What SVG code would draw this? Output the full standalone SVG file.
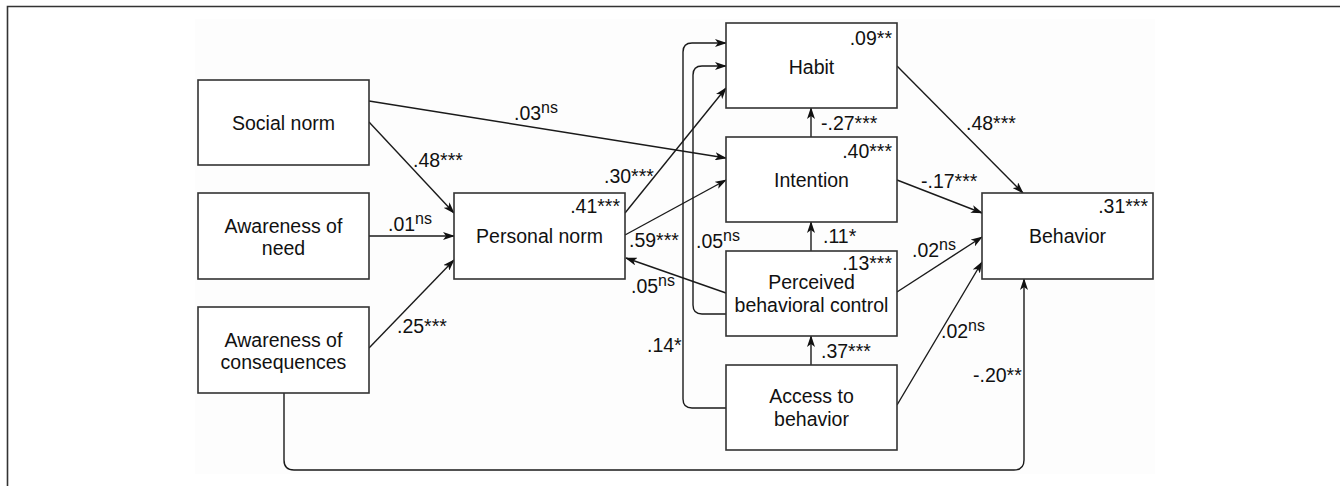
<svg xmlns="http://www.w3.org/2000/svg" width="1340" height="486" viewBox="0 0 1340 486">
  <defs>
    <marker id="arrow" viewBox="0 0 12 8" refX="11" refY="4" markerWidth="12" markerHeight="8" markerUnits="userSpaceOnUse" orient="auto">
      <path d="M0,0 L12,4 L0,8 L3,4 z" fill="#111"/>
    </marker>
    <style>
      .frame { fill: none; stroke: #333; stroke-width: 1.6; }
      .panel { fill: #fdfdfd; stroke: none; }
      .box { fill: #fff; stroke: #333; stroke-width: 1.6; }
      .edge { fill: none; stroke: #1a1a1a; stroke-width: 1.4; marker-end: url(#arrow); }
      text { font-family: "Liberation Sans", Arial, Helvetica, sans-serif; font-size: 19.5px; fill: #111; }
      .c { text-anchor: middle; }
      .r { text-anchor: end; }
      .sup { font-size: 16px; }
    </style>
  </defs>

  <!-- page frame and drawing panel -->
  <path class="frame" d="M7.5,486 V6.5 H1340"/>
  <rect class="panel" x="195" y="19" width="960" height="455"/>

  <!-- connectors -->
  <g id="connectors">
    <path class="edge" d="M369,101 L726,158"/>
    <path class="edge" d="M369,122 L454,213"/>
    <path class="edge" d="M369,236 L454,236"/>
    <path class="edge" d="M369,348 L454,260"/>
    <path class="edge" d="M284,393 V460 Q284,470 294,470 H1014 Q1024,470 1024,460 V279"/>
    <path class="edge" d="M625,213 L726,88"/>
    <path class="edge" d="M625,235 L726,180"/>
    <path class="edge" d="M726,293 L626,258"/>
    <path class="edge" d="M726,314 H702 Q693,314 693,305 V75 Q693,66 702,66 H726"/>
    <path class="edge" d="M726,408 H692 Q683,408 683,399 V52 Q683,43 692,43 H726"/>
    <path class="edge" d="M811,137 V108"/>
    <path class="edge" d="M811,251 V222"/>
    <path class="edge" d="M811,365 V336"/>
    <path class="edge" d="M897,66 L1023,193"/>
    <path class="edge" d="M897,180 L982,213"/>
    <path class="edge" d="M897,292 L982,237"/>
    <path class="edge" d="M897,405 L982,262"/>

    <!-- path coefficients -->
    <text x="514" y="120">.03<tspan class="sup" dy="-7">ns</tspan></text>
    <text x="413" y="167">.48***</text>
    <text x="388" y="231">.01<tspan class="sup" dy="-7">ns</tspan></text>
    <text x="397" y="333">.25***</text>
    <text x="604" y="183">.30***</text>
    <text x="629" y="247">.59***</text>
    <text x="696" y="248">.05<tspan class="sup" dy="-7">ns</tspan></text>
    <text x="631" y="293">.05<tspan class="sup" dy="-7">ns</tspan></text>
    <text x="647" y="352">.14*</text>
    <text x="821" y="130">-.27***</text>
    <text x="823" y="243">.11*</text>
    <text x="821" y="358">.37***</text>
    <text x="966" y="130">.48***</text>
    <text x="921" y="188">-.17***</text>
    <text x="912" y="257">.02<tspan class="sup" dy="-7">ns</tspan></text>
    <text x="941" y="338">.02<tspan class="sup" dy="-7">ns</tspan></text>
    <text x="973" y="382">-.20**</text>
  </g>

  <!-- nodes -->
  <g id="social-norm">
    <rect class="box" x="198" y="80" width="171" height="85"/>
    <text class="c" x="283.5" y="130">Social norm</text>
  </g>
  <g id="awareness-of-need">
    <rect class="box" x="198" y="193" width="171" height="86"/>
    <text class="c" x="283.5" y="233">Awareness of</text>
    <text class="c" x="283.5" y="255">need</text>
  </g>
  <g id="awareness-of-consequences">
    <rect class="box" x="198" y="307" width="171" height="86"/>
    <text class="c" x="283.5" y="347">Awareness of</text>
    <text class="c" x="283.5" y="369">consequences</text>
  </g>
  <g id="personal-norm">
    <rect class="box" x="454" y="193" width="171" height="86"/>
    <text class="r" x="620" y="213">.41***</text>
    <text class="c" x="539.5" y="243">Personal norm</text>
  </g>
  <g id="habit">
    <rect class="box" x="726" y="23" width="171" height="85"/>
    <text class="r" x="892" y="45">.09**</text>
    <text class="c" x="811.5" y="74">Habit</text>
  </g>
  <g id="intention">
    <rect class="box" x="726" y="137" width="171" height="85"/>
    <text class="r" x="892" y="158">.40***</text>
    <text class="c" x="811.5" y="187">Intention</text>
  </g>
  <g id="perceived-behavioral-control">
    <rect class="box" x="726" y="251" width="171" height="85"/>
    <text class="r" x="892" y="270">.13***</text>
    <text class="c" x="811.5" y="289">Perceived</text>
    <text class="c" x="811.5" y="312">behavioral control</text>
  </g>
  <g id="access-to-behavior">
    <rect class="box" x="726" y="365" width="171" height="85"/>
    <text class="c" x="811.5" y="403">Access to</text>
    <text class="c" x="811.5" y="426">behavior</text>
  </g>
  <g id="behavior">
    <rect class="box" x="982" y="193" width="171" height="86"/>
    <text class="r" x="1148" y="213">.31***</text>
    <text class="c" x="1067.5" y="243">Behavior</text>
  </g>
</svg>
